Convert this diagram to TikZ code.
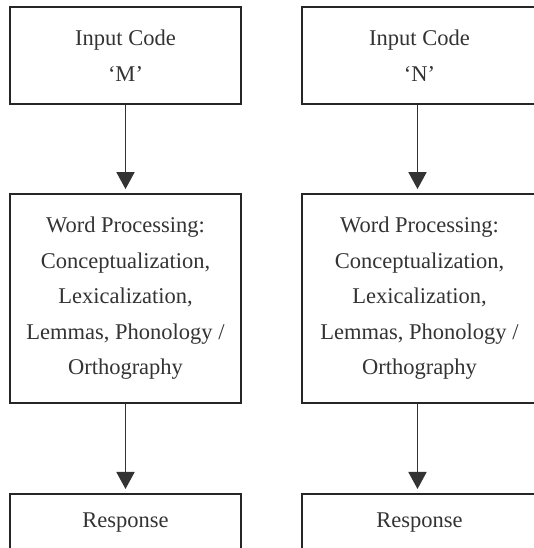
\documentclass[tikz,border=0pt]{standalone}
\usepackage{fontspec}
\setmainfont{Liberation Serif}
\usetikzlibrary{arrows.meta}
\begin{document}
\begin{tikzpicture}[x=1pt,y=1pt,
 box/.style={draw=black!85, line width=1.8pt, rectangle, inner sep=0pt, align=center,
   text=black!80, font=\fontsize{22.5}{35.5}\selectfont},
 arr/.style={draw=black!80, line width=1.8pt, shorten >=4pt, -{Triangle[length=17pt,width=18pt]}}]
\useasboundingbox (0,0) rectangle (534,548);
\clip (0,0) rectangle (534,548);
% left column
\node[box, minimum width=231pt, minimum height=97pt] (m1) at (125.5,492.5) {Input Code\\‘M’};
\node[box, minimum width=231pt, minimum height=209pt] (m2) at (125.5,249.5)
  {Word Processing:\\Conceptualization,\\Lexicalization,\\Lemmas, Phonology /\\Orthography};
\node[box, minimum width=231pt, text height=34pt, text depth=33pt, anchor=north] (m3) at (125.5,55) {Response};
% right column
\node[box, minimum width=235pt, minimum height=97pt] (n1) at (419.5,492.5) {Input Code\\‘N’};
\node[box, minimum width=235pt, minimum height=209pt] (n2) at (419.5,249.5)
  {Word Processing:\\Conceptualization,\\Lexicalization,\\Lemmas, Phonology /\\Orthography};
\node[box, minimum width=235pt, text height=34pt, text depth=33pt, anchor=north] (n3) at (419.5,55) {Response};
% arrows
\draw[arr] (m1.south) -- (m2.north);
\draw[arr] (m2.south) -- (m3.north);
\draw[arr] ([xshift=-2pt]n1.south) -- ([xshift=-2pt]n2.north);
\draw[arr] ([xshift=-2pt]n2.south) -- ([xshift=-2pt]n3.north);
\end{tikzpicture}
\end{document}
